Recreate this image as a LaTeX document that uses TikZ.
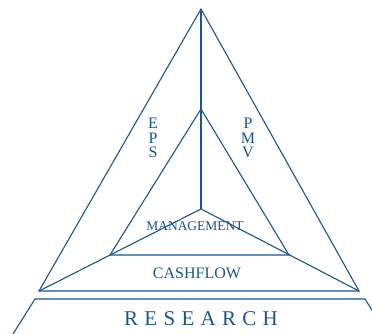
\documentclass[tikz,border=0pt]{standalone}
\usepackage{fontspec}
\setmainfont{Liberation Serif}
\definecolor{pyrblue}{RGB}{28,84,140}
\begin{document}
\begin{tikzpicture}[
x=1pt,y=-1pt,
edge/.style={draw=pyrblue,line width=1.1pt,line join=miter},
label/.style={text=pyrblue,inner sep=0pt},
stack/.style={label,align=center,font=\fontsize{16}{14.5}\selectfont}
]
\useasboundingbox (0,0) rectangle (372,334);
% corners of the big and small triangle
\coordinate (top) at (201,9);
\coordinate (left) at (39,291);
\coordinate (right) at (359,291);
\coordinate (itop) at (201,109);
\coordinate (ileft) at (110,255);
\coordinate (iright) at (289,255);
\coordinate (mid) at (201,209);
% base plate
\coordinate (bl) at (35,299);
\coordinate (br) at (365,299);
\coordinate (blo) at (13,334);
\coordinate (bro) at (387,334);

\path[edge] (top) -- (left) -- (right) -- cycle;
\path[edge] (itop) -- (ileft) -- (iright) -- cycle;
\path[edge] (top) -- (mid);
\path[edge] (left) -- (mid) -- (right);
\path[edge] (blo) -- (bl) -- (br) -- (bro);

\node[stack] (eps) at (153,138) {E\\P\\S};
\node[stack] (pmv) at (248,138) {P\\M\\V};
\node[label,font=\fontsize{13.5}{13.5}\selectfont] (mgmt) at (195,226) {MANAGEMENT};
\node[label,font=\fontsize{16}{16}\selectfont] (cash) at (197,273) {CASHFLOW};
\node[label,font=\fontsize{21}{21}\selectfont\addfontfeature{LetterSpace=30}] (research) at (201,319) {RESEARCH};
\end{tikzpicture}
\end{document}
